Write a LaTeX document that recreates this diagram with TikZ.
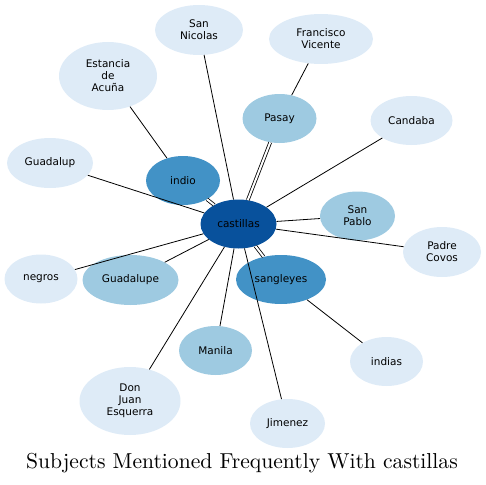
\documentclass[tikz,border=0pt]{standalone}
\usepackage{fontspec}
\usepackage{tikz}
\usetikzlibrary{shapes.geometric, positioning}
\newfontfamily\nodefont{DejaVu Sans}
\newfontfamily\titlefont{lmroman10-regular}[Extension=.otf]
\definecolor{tone1}{HTML}{DEEBF7}
\definecolor{tone2}{HTML}{9ECAE1}
\definecolor{tone3}{HTML}{4292C6}
\definecolor{tone4}{HTML}{08519C}

\begin{document}
\begin{tikzpicture}[
  x=1pt, y=-1pt,
  topic/.style={ellipse, draw=none, fill=#1, minimum width=74pt, minimum height=49pt, inner sep=0pt, align=center, font=\nodefont\fontsize{10.5}{12}\selectfont},
  link/.style={draw=black, line width=0.8pt},
  twin/.style={link, double=white, double distance=2pt},
  caption/.style={anchor=base, font=\titlefont\fontsize{21.6}{26}\selectfont},
]
\useasboundingbox (0,0) rectangle (486,484);

% Subjects
\node[topic=tone4, minimum width=76pt] (castillas) at (238.5, 224) {castillas};
\node[topic=tone3] (indio) at (183, 180.5) {indio};
\node[topic=tone2] (pasay) at (279.5, 118.5) {Pasay};
\node[topic=tone3, minimum width=90pt] (sangleyes) at (281, 279.5) {sangleyes};
\node[topic=tone2, minimum width=75pt] (sanpablo) at (357.5, 216) {San\\Pablo};
\node[topic=tone2, minimum width=96pt, minimum height=50pt] (guadalupe) at (130.5, 280) {Guadalupe};
\node[topic=tone2, minimum width=73pt] (manila) at (215.5, 350.5) {Manila};
\node[topic=tone1, minimum width=88pt, minimum height=50pt] (sannicolas) at (199, 30) {San\\Nicolas};
\node[topic=tone1, minimum width=104pt, minimum height=50pt] (francisco) at (321, 39) {Francisco\\Vicente};
\node[topic=tone1, minimum width=98pt, minimum height=68pt] (estancia) at (108, 76) {Estancia\\de\\Acuña};
\node[topic=tone1, minimum width=86pt, minimum height=50pt] (guadalup) at (50, 163) {Guadalup};
\node[topic=tone1, minimum width=82pt] (candaba) at (411.5, 120.5) {Candaba};
\node[topic=tone1, minimum width=78pt, minimum height=50pt] (padre) at (442, 252) {Padre\\Covos};
\node[topic=tone1, minimum width=73pt] (negros) at (41, 279) {negros};
\node[topic=tone1, minimum width=101pt, minimum height=68pt] (donjuan) at (130, 401) {Don\\Juan\\Esquerra};
\node[topic=tone1, minimum width=73pt] (indias) at (386.5, 361.5) {indias};
\node[topic=tone1, minimum width=75pt] (jimenez) at (287.5, 423.5) {Jimenez};

% Links
\draw[twin] (castillas) -- (indio);
\draw[twin] (castillas) -- (pasay);
\draw[twin] (castillas) -- (sangleyes);
\draw[link] (castillas) -- (sannicolas);
\draw[link] (castillas) -- (guadalup);
\draw[link] (castillas) -- (candaba);
\draw[link] (castillas) -- (sanpablo);
\draw[link] (castillas) -- (padre);
\draw[link] (castillas) -- (negros);
\draw[link] (castillas) -- (guadalupe);
\draw[link] (castillas) -- (manila);
\draw[link] (castillas) -- (donjuan);
\draw[link] (castillas) -- (jimenez);
\draw[link] (indio) -- (estancia);
\draw[link] (pasay) -- (francisco);
\draw[link] (sangleyes) -- (indias);

% Title
\node[caption] (title) at (242, 468.5) {Subjects Mentioned Frequently With castillas};

\end{tikzpicture}
\end{document}
